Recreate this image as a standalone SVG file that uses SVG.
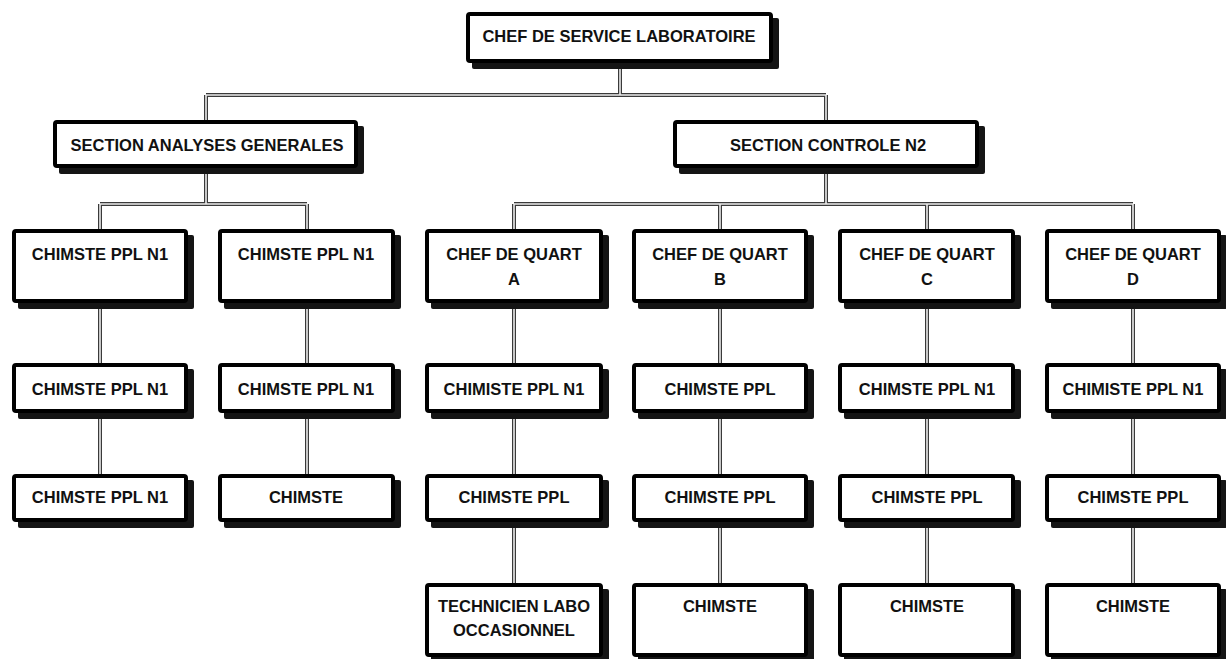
<svg xmlns="http://www.w3.org/2000/svg" width="1226" height="659" viewBox="0 0 1226 659">
<style>
.sh{fill:#151515}
.bx{fill:#fff;stroke:#000;stroke-width:4}
.t{font-family:"Liberation Sans",Arial,sans-serif;font-weight:bold;font-size:16.5px;fill:#111;text-anchor:middle}
.c1{fill:none;stroke:#3a3a3a;stroke-width:4}
.c2{fill:none;stroke:#ececec;stroke-width:1.6}
</style>
<rect width="1226" height="659" fill="#fff"/>
<g id="connectors">
<path id="cpath" class="c1" d="M620 63V95M206 95H826M206 95V120M826 95V120M206 168V204M100 204H307M100 204V229M307 204V229M826 168V204M514 204H1133M514 204V229M720 204V229M927 204V229M1133 204V229M100 303V363M307 303V363M514 303V363M720 303V363M927 303V363M1133 303V363M100 413V474M307 413V474M514 413V474M720 413V474M927 413V474M1133 413V474M514 522V583M720 522V583M927 522V583M1133 522V583"/>
<path class="c2" d="M620 63V95M206 95H826M206 95V120M826 95V120M206 168V204M100 204H307M100 204V229M307 204V229M826 168V204M514 204H1133M514 204V229M720 204V229M927 204V229M1133 204V229M100 303V363M307 303V363M514 303V363M720 303V363M927 303V363M1133 303V363M100 413V474M307 413V474M514 413V474M720 413V474M927 413V474M1133 413V474M514 522V583M720 522V583M927 522V583M1133 522V583"/>
</g>
<g id="n-chef">
<rect class="sh" x="472" y="18" width="307" height="51" rx="2"/>
<rect class="bx" x="468" y="14" width="303" height="47" rx="2"/>
<text class="t" x="619" y="42">CHEF DE SERVICE LABORATOIRE</text>
</g>
<g id="n-secA">
<rect class="sh" x="59" y="126" width="305" height="48" rx="2"/>
<rect class="bx" x="55" y="122" width="301" height="44" rx="2"/>
<text class="t" x="207" y="151">SECTION ANALYSES GENERALES</text>
</g>
<g id="n-secC">
<rect class="sh" x="679" y="126" width="306" height="48" rx="2"/>
<rect class="bx" x="675" y="122" width="302" height="44" rx="2"/>
<text class="t" x="828" y="151">SECTION CONTROLE N2</text>
</g>
<!-- row 1 -->
<g id="n-r1c1">
<rect class="sh" x="18" y="235" width="176" height="74" rx="2"/>
<rect class="bx" x="14" y="231" width="172" height="70" rx="2"/>
<text class="t" x="100" y="260">CHIMSTE PPL N1</text>
</g>
<g id="n-r1c2">
<rect class="sh" x="224" y="235" width="177" height="74" rx="2"/>
<rect class="bx" x="220" y="231" width="173" height="70" rx="2"/>
<text class="t" x="306" y="260">CHIMSTE PPL N1</text>
</g>
<g id="n-r1c3">
<rect class="sh" x="431" y="235" width="178" height="74" rx="2"/>
<rect class="bx" x="427" y="231" width="174" height="70" rx="2"/>
<text class="t" x="514" y="260">CHEF DE QUART</text>
<text class="t" x="514" y="285">A</text>
</g>
<g id="n-r1c4">
<rect class="sh" x="638" y="235" width="176" height="74" rx="2"/>
<rect class="bx" x="634" y="231" width="172" height="70" rx="2"/>
<text class="t" x="720" y="260">CHEF DE QUART</text>
<text class="t" x="720" y="285">B</text>
</g>
<g id="n-r1c5">
<rect class="sh" x="844" y="235" width="177" height="74" rx="2"/>
<rect class="bx" x="840" y="231" width="173" height="70" rx="2"/>
<text class="t" x="927" y="260">CHEF DE QUART</text>
<text class="t" x="927" y="285">C</text>
</g>
<g id="n-r1c6">
<rect class="sh" x="1051" y="235" width="176" height="74" rx="2"/>
<rect class="bx" x="1047" y="231" width="172" height="70" rx="2"/>
<text class="t" x="1133" y="260">CHEF DE QUART</text>
<text class="t" x="1133" y="285">D</text>
</g>
<!-- row 2 -->
<g id="n-r2c1">
<rect class="sh" x="18" y="369" width="176" height="50" rx="2"/>
<rect class="bx" x="14" y="365" width="172" height="46" rx="2"/>
<text class="t" x="100" y="395">CHIMSTE PPL N1</text>
</g>
<g id="n-r2c2">
<rect class="sh" x="224" y="369" width="177" height="50" rx="2"/>
<rect class="bx" x="220" y="365" width="173" height="46" rx="2"/>
<text class="t" x="306" y="395">CHIMSTE PPL N1</text>
</g>
<g id="n-r2c3">
<rect class="sh" x="431" y="369" width="178" height="50" rx="2"/>
<rect class="bx" x="427" y="365" width="174" height="46" rx="2"/>
<text class="t" x="514" y="395">CHIMISTE PPL N1</text>
</g>
<g id="n-r2c4">
<rect class="sh" x="638" y="369" width="176" height="50" rx="2"/>
<rect class="bx" x="634" y="365" width="172" height="46" rx="2"/>
<text class="t" x="720" y="395">CHIMSTE PPL</text>
</g>
<g id="n-r2c5">
<rect class="sh" x="844" y="369" width="177" height="50" rx="2"/>
<rect class="bx" x="840" y="365" width="173" height="46" rx="2"/>
<text class="t" x="927" y="395">CHIMSTE PPL N1</text>
</g>
<g id="n-r2c6">
<rect class="sh" x="1051" y="369" width="176" height="50" rx="2"/>
<rect class="bx" x="1047" y="365" width="172" height="46" rx="2"/>
<text class="t" x="1133" y="395">CHIMISTE PPL N1</text>
</g>
<!-- row 3 -->
<g id="n-r3c1">
<rect class="sh" x="18" y="480" width="176" height="48" rx="2"/>
<rect class="bx" x="14" y="476" width="172" height="44" rx="2"/>
<text class="t" x="100" y="503">CHIMSTE PPL N1</text>
</g>
<g id="n-r3c2">
<rect class="sh" x="224" y="480" width="177" height="48" rx="2"/>
<rect class="bx" x="220" y="476" width="173" height="44" rx="2"/>
<text class="t" x="306" y="503">CHIMSTE</text>
</g>
<g id="n-r3c3">
<rect class="sh" x="431" y="480" width="178" height="48" rx="2"/>
<rect class="bx" x="427" y="476" width="174" height="44" rx="2"/>
<text class="t" x="514" y="503">CHIMSTE PPL</text>
</g>
<g id="n-r3c4">
<rect class="sh" x="638" y="480" width="176" height="48" rx="2"/>
<rect class="bx" x="634" y="476" width="172" height="44" rx="2"/>
<text class="t" x="720" y="503">CHIMSTE PPL</text>
</g>
<g id="n-r3c5">
<rect class="sh" x="844" y="480" width="177" height="48" rx="2"/>
<rect class="bx" x="840" y="476" width="173" height="44" rx="2"/>
<text class="t" x="927" y="503">CHIMSTE PPL</text>
</g>
<g id="n-r3c6">
<rect class="sh" x="1051" y="480" width="176" height="48" rx="2"/>
<rect class="bx" x="1047" y="476" width="172" height="44" rx="2"/>
<text class="t" x="1133" y="503">CHIMSTE PPL</text>
</g>
<!-- row 4 -->
<g id="n-r4c3">
<rect class="sh" x="431" y="589" width="178" height="74" rx="2"/>
<rect class="bx" x="427" y="585" width="174" height="70" rx="2"/>
<text class="t" x="514" y="612">TECHNICIEN LABO</text>
<text class="t" x="514" y="636">OCCASIONNEL</text>
</g>
<g id="n-r4c4">
<rect class="sh" x="638" y="589" width="176" height="74" rx="2"/>
<rect class="bx" x="634" y="585" width="172" height="70" rx="2"/>
<text class="t" x="720" y="612">CHIMSTE</text>
</g>
<g id="n-r4c5">
<rect class="sh" x="844" y="589" width="177" height="74" rx="2"/>
<rect class="bx" x="840" y="585" width="173" height="70" rx="2"/>
<text class="t" x="927" y="612">CHIMSTE</text>
</g>
<g id="n-r4c6">
<rect class="sh" x="1051" y="589" width="176" height="74" rx="2"/>
<rect class="bx" x="1047" y="585" width="172" height="70" rx="2"/>
<text class="t" x="1133" y="612">CHIMSTE</text>
</g>
</svg>
